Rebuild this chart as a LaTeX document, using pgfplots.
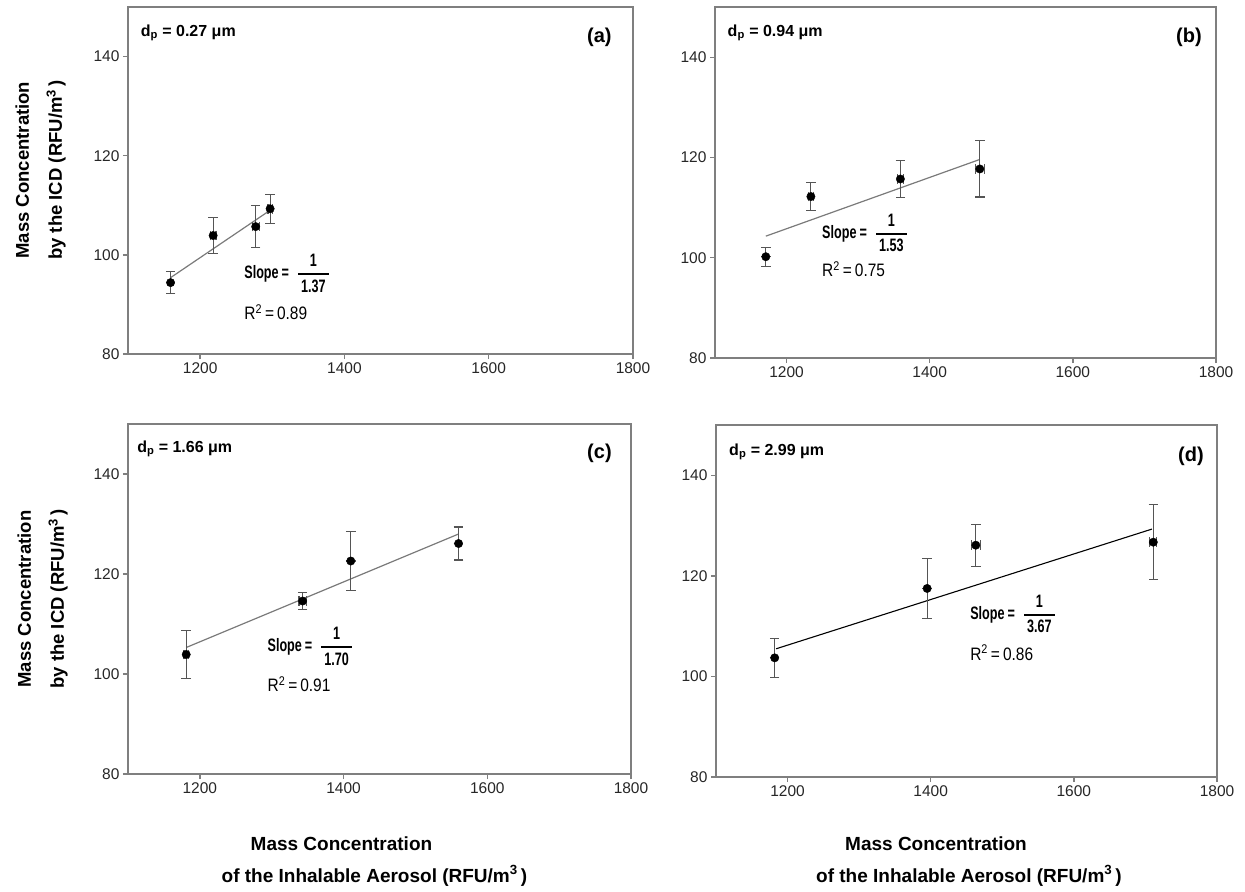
\documentclass[border=0pt]{standalone}
\usepackage{fontspec}
\usepackage{amsmath}
\usepackage{pgfplots}
\pgfplotsset{compat=1.18}
\usepackage{pgfplotstable}
\setmainfont{Liberation Sans}
\newfontfamily\slopefont[FakeStretch=0.70]{Liberation Sans}
\newfontfamily\rsqfont[FakeStretch=0.86]{Liberation Sans}

\definecolor{axisgray}{HTML}{7F7F7F}
\definecolor{barsgray}{HTML}{555555}
\definecolor{fitgray}{HTML}{7A7A7A}

% points: x, y, x error, y error
\pgfplotstableread{
x    y     ex  ey
1159 94.4  0   2.2
1218 103.9 4   3.6
1277 105.7 5   4.2
1297 109.3 3   2.9
}\dataA
\pgfplotstableread{
x    y     ex  ey
1171 100.2 0   1.9
1234 112.2 3   2.8
1359 115.7 4   3.75
1470 117.7 6   5.6
}\dataB
\pgfplotstableread{
x    y     ex  ey
1181 103.9 3   4.75
1343 114.6 5   1.75
1410 122.6 0   5.9
1560 126.1 0   3.3
}\dataC
\pgfplotstableread{
x    y     ex  ey
1182 103.7 0   3.85
1395 117.5 0   6.0
1463 126.1 6   4.2
1711 126.7 5   7.5
}\dataD

\newcommand{\slope}[1]{{\slopefont\bfseries\fontsize{18bp}{20bp}\selectfont Slope\,=\hspace{8bp}$\genfrac{}{}{1.6bp}{0}{\mbox{\slopefont\bfseries 1}}{\mbox{\slopefont\bfseries\,#1\,}}$}}
\newcommand{\rsq}[1]{{\rsqfont\fontsize{18bp}{20bp}\selectfont R\textsuperscript{2}\,=\,#1}}

\pgfplotsset{
  panel/.style={
    scale only axis,
    xmin=1100, xmax=1800, ymin=80, ymax=150,
    xtick={1200,1400,1600,1800}, ytick={80,100,120,140},
    tick pos=left, tick align=outside,
    major tick length=5bp,
    axis line style={axisgray, line width=1.3bp},
    tick style={axisgray, line width=1.3bp},
    tick label style={font=\fontsize{15.5bp}{18bp}\selectfont, text=black!85},
    /pgf/number format/assume math mode=true,
    /pgf/number format/1000 sep={},
    clip=false,
    ylabel style={font=\fontsize{18.5bp}{33bp}\selectfont\bfseries, align=center, anchor=center},
    xlabel style={font=\fontsize{19bp}{32bp}\selectfont\bfseries, align=center, anchor=center},
  },
  pts/.style={only marks, mark=*, mark size=4.2bp, black,
    error bars/.cd, x dir=both, x explicit, y dir=both, y explicit,
    error bar style={barsgray, line width=1.1bp},
    error mark options={rotate=90, barsgray, line width=1.1bp, mark size=4.8bp}},
}
\tikzset{
  dp/.style={anchor=west, inner sep=0, font=\fontsize{16bp}{19bp}\selectfont\bfseries},
  tag/.style={anchor=east, inner sep=0, font=\fontsize{20bp}{24bp}\selectfont\bfseries},
  note/.style={anchor=west, inner sep=0},
}

\newcommand{\ylab}{Mass Concentration\\by the ICD (RFU/m\textsuperscript{3}\,)}
\newcommand{\xlab}{Mass Concentration\hspace*{66bp}\\of the Inhalable Aerosol (RFU/m\textsuperscript{3}\,)}

\begin{document}
\begin{tikzpicture}
\useasboundingbox (0,0) rectangle (1245bp,-892bp);

% (a)
\begin{axis}[panel, at={(128bp,-354bp)}, anchor=south west, width=505bp, height=347bp,
  ylabel={\ylab}, ylabel style={at={(axis description cs:-0.173,0.53)}}]
\addplot[fitgray, line width=1.2bp] coordinates {(1159,95.4) (1297,109.0)};
\addplot[pts] table[x=x, y=y, x error=ex, y error=ey] {\dataA};
\node[dp] at (rel axis cs:0.025,0.926) {d\textsubscript{p} = 0.27 μm};
\node[tag] at (rel axis cs:0.958,0.914) {(a)};
\node[note] at (axis cs:1261,96.3) {\slope{1.37}};
\node[note] at (axis cs:1261,88.5) {\rsq{0.89}};
\end{axis}

% (b)
\begin{axis}[panel, at={(715bp,-358bp)}, anchor=south west, width=501bp, height=351bp]
\addplot[fitgray, line width=1.2bp] coordinates {(1171,104.3) (1470,119.6)};
\addplot[pts] table[x=x, y=y, x error=ex, y error=ey] {\dataB};
\node[dp] at (rel axis cs:0.025,0.926) {d\textsubscript{p} = 0.94 μm};
\node[tag] at (rel axis cs:0.972,0.915) {(b)};
\node[note] at (axis cs:1249.5,104.9) {\slope{1.53}};
\node[note] at (axis cs:1249.5,97.7) {\rsq{0.75}};
\end{axis}

% (c)
\begin{axis}[panel, at={(128bp,-774bp)}, anchor=south west, width=503bp, height=350bp,
  ylabel={\ylab}, ylabel style={at={(axis description cs:-0.170,0.5)}},
  xlabel={\xlab}, xlabel style={at={(axis description cs:0.49,-0.249)}}]
\addplot[fitgray, line width=1.2bp] coordinates {(1181,105.3) (1560,128.0)};
\addplot[pts] table[x=x, y=y, x error=ex, y error=ey] {\dataC};
\node[dp] at (rel axis cs:0.018,0.929) {d\textsubscript{p} = 1.66 μm};
\node[tag] at (rel axis cs:0.962,0.917) {(c)};
\node[note] at (axis cs:1294,105.5) {\slope{1.70}};
\node[note] at (axis cs:1294,98.0) {\rsq{0.91}};
\end{axis}

% (d)
\begin{axis}[panel, at={(716bp,-777bp)}, anchor=south west, width=501bp, height=352bp,
  xlabel={\xlab}, xlabel style={at={(axis description cs:0.505,-0.239)}}]
\addplot[black, line width=1.1bp] coordinates {(1184,105.5) (1709,129.3)};
\addplot[pts] table[x=x, y=y, x error=ex, y error=ey] {\dataD};
\node[dp] at (rel axis cs:0.026,0.924) {d\textsubscript{p} = 2.99 μm};
\node[tag] at (rel axis cs:0.974,0.91) {(d)};
\node[note] at (axis cs:1455,112.4) {\slope{3.67}};
\node[note] at (axis cs:1455,104.7) {\rsq{0.86}};
\end{axis}
\end{tikzpicture}
\end{document}
